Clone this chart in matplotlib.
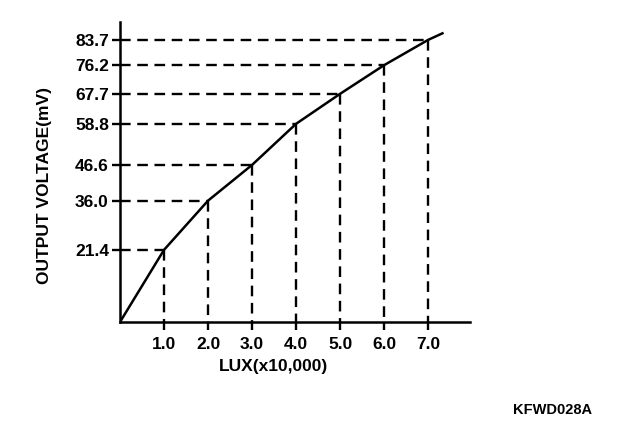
import matplotlib.pyplot as plt
import numpy as np

plt.rcParams['font.family'] = ['Liberation Sans', 'DejaVu Sans']

lux = [0.0, 1.0, 2.0, 3.0, 4.0, 5.0, 6.0, 7.0, 7.35]
mv = [0.0, 21.4, 36.0, 46.6, 58.8, 67.7, 76.2, 83.7, 85.8]
tick_lux = [1.0, 2.0, 3.0, 4.0, 5.0, 6.0, 7.0]
tick_mv = [21.4, 36.0, 46.6, 58.8, 67.7, 76.2, 83.7]

fig = plt.figure(figsize=(6.24, 4.32), dpi=100)
ax = fig.add_axes([120/624, 110/432, 350/624, 300/432])

ax.plot(lux, mv, color='black', lw=1.8, solid_capstyle='butt')

# dashed guide lines
for x, y in zip(tick_lux, tick_mv):
    ax.plot([0, x], [y, y], color='black', lw=1.7, dashes=(4.5, 2.8))
    ax.plot([x, x], [y, 0], color='black', lw=1.7, dashes=(4.5, 2.8))

ax.set_xlim(0, 7.95)
ax.set_ylim(0, 89)
ax.set_xticks(tick_lux)
ax.set_xticklabels(["{:.1f}".format(v) for v in tick_lux])
ax.set_yticks(tick_mv)
ax.set_yticklabels(["{:.1f}".format(v) for v in tick_mv])
ax.tick_params(axis='both', direction='out', length=6, width=1.7, labelsize=12.5, pad=2)
ax.tick_params(axis='x', pad=5)

for s in ['top', 'right']:
    ax.spines[s].set_visible(False)
for s in ['left', 'bottom']:
    ax.spines[s].set_linewidth(1.8)

for lbl in ax.get_xticklabels() + ax.get_yticklabels():
    lbl.set_fontweight('bold')

ax.set_xlabel("LUX(x10,000)", fontsize=12.5, fontweight='bold')
ax.set_ylabel("OUTPUT VOLTAGE(mV)", fontsize=12.5, fontweight='bold')
ax.xaxis.set_label_coords(0.44, -0.125)
ax.yaxis.set_label_coords(-0.195, 0.455)

fig.text(0.822, 0.05, "KFWD028A", fontsize=10.5, fontweight='bold', ha='left', va='center')

plt.savefig("out.png", dpi=100)
